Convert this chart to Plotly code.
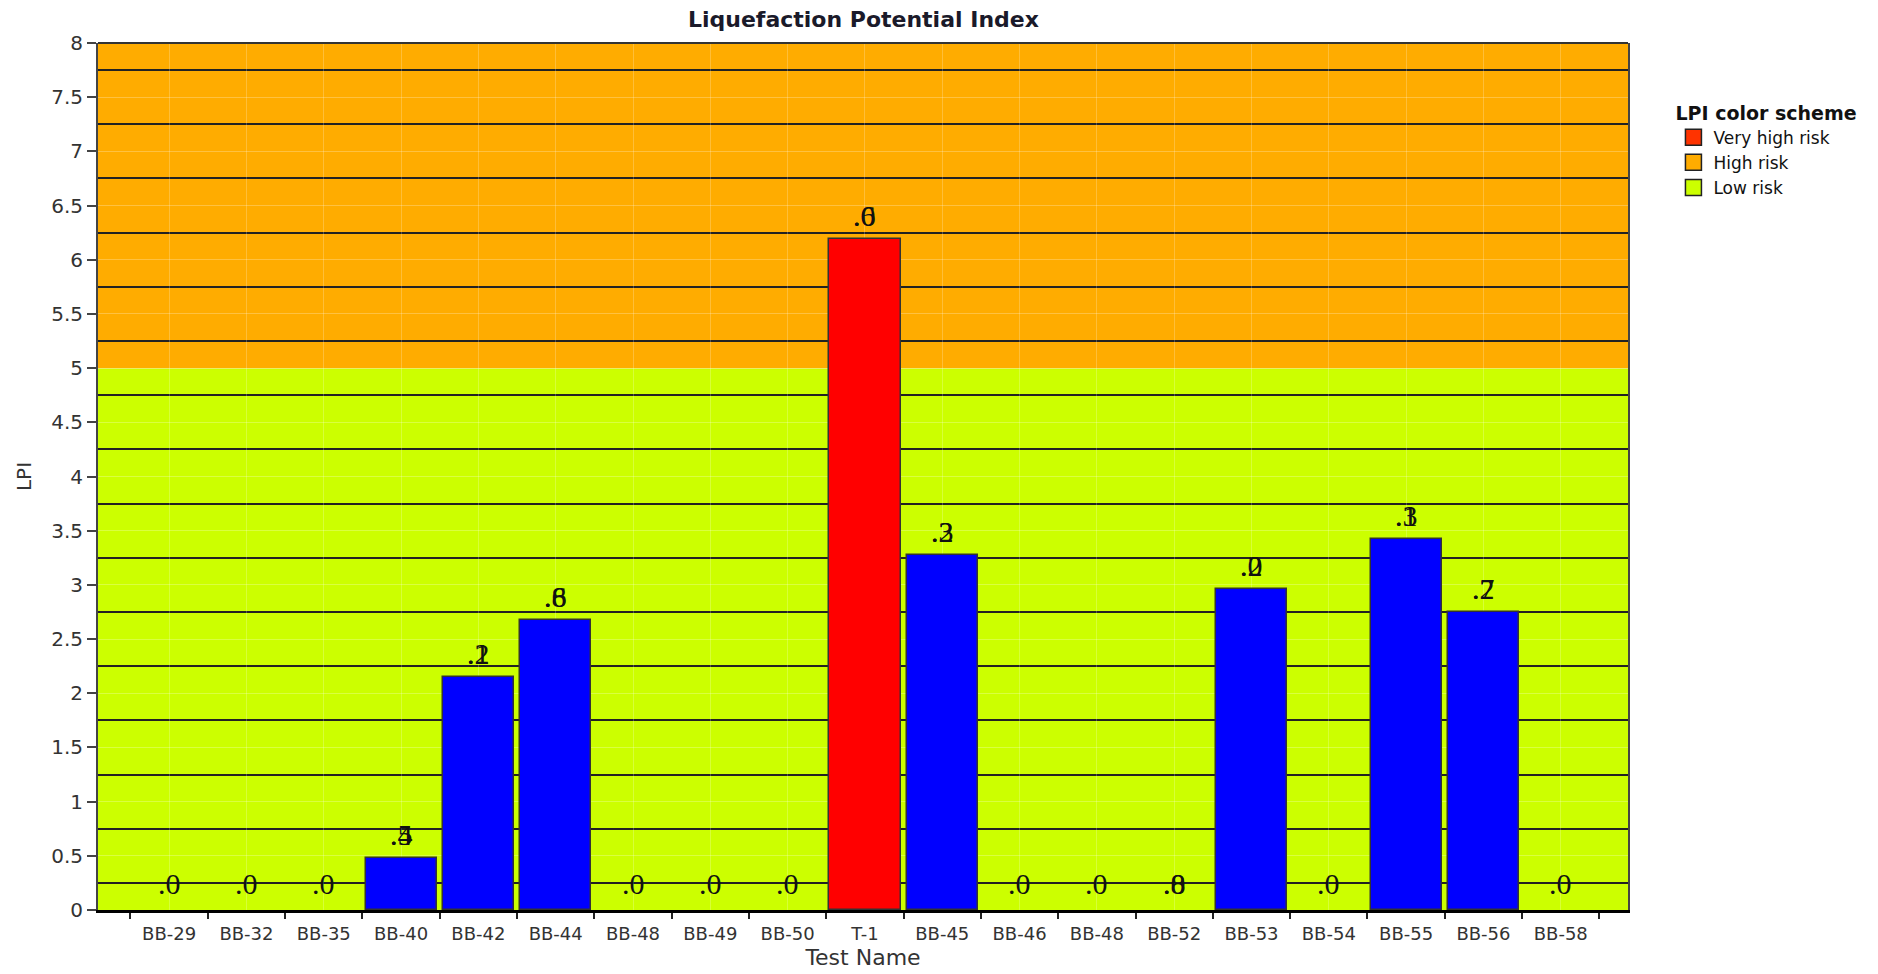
import plotly.graph_objects as go

# Test names (BB-48 appears twice, so positions are used on the x axis)
test_names = ["BB-29", "BB-32", "BB-35", "BB-40", "BB-42", "BB-44", "BB-48",
              "BB-49", "BB-50", "T-1", "BB-45", "BB-46", "BB-48", "BB-52",
              "BB-53", "BB-54", "BB-55", "BB-56", "BB-58"]
lpi_values = [0, 0, 0, 0.48, 2.15, 2.68, 0, 0, 0, 6.19, 3.28, 0, 0, 0,
              2.96, 0, 3.42, 2.75, 0]

# The value labels in the original are two glyphs printed over each other
label_front = [".0", ".0", ".0", ".5", ".2", ".6", ".0", ".0", ".0", ".6",
               ".3", ".0", ".0", ".0", ".0", ".0", ".3", ".7", ".0"]
label_back = ["", "", "", ".4", ".1", ".8", "", "", "", ".0", ".2", "", "",
              ".8", ".2", "", ".1", ".2", ""]

# Risk bands on the LPI scale
band_names = ["Low risk", "High risk"]
band_edges = [0, 5, 8]
legend_names = ["Very high risk", "High risk", "Low risk"]

ORANGE = "#FFAC00"
GREEN = "#CCFF00"
legend_colors = ["#FF3300", ORANGE, GREEN]
band_colors = [GREEN, ORANGE]

x_pos = list(range(len(test_names)))
bar_colors = ["#FF0000" if v >= 5 else "#0000FF" for v in lpi_values]
outline_w = [1.5 if v > 0 else 0 for v in lpi_values]

fig = go.Figure()
fig.add_trace(go.Bar(
    x=x_pos, y=lpi_values, width=0.92,
    marker=dict(color=bar_colors, line=dict(color="#333333", width=outline_w)),
    showlegend=False, hoverinfo="x+y",
))

# Legend entries
for name, col in zip(legend_names, legend_colors):
    fig.add_trace(go.Scatter(
        x=[None], y=[None], mode="markers", name=name,
        marker=dict(symbol="square", size=16, color=col,
                    line=dict(color="#222222", width=1.5)),
    ))

# Background bands
for i, name in enumerate(band_names):
    fig.add_shape(type="rect", xref="paper", yref="y", x0=0, x1=1,
                  y0=band_edges[i], y1=band_edges[i + 1],
                  fillcolor=band_colors[i], line_width=0, layer="below")

# Top border of the plot frame
fig.add_shape(type="line", xref="paper", yref="paper", x0=0, x1=1, y0=1, y1=1,
              line=dict(color="#333333", width=2))

# Value labels
for xi, v, a, b in zip(x_pos, lpi_values, label_front, label_back):
    for t in (b, a):
        if t:
            fig.add_annotation(x=xi, y=v, text=t, showarrow=False,
                               yanchor="bottom", yshift=8 if v == 0 else 5,
                               font=dict(family="Liberation Serif", size=30,
                                         color="#111111"))

fig.update_layout(
    width=1878, height=974,
    margin=dict(l=90, r=258, t=35, b=72),
    paper_bgcolor="white", plot_bgcolor="white",
    font=dict(family="DejaVu Sans", size=16, color="#333333"),
    title=dict(text="<b>Liquefaction Potential Index</b>", x=0.4555, xanchor="center",
               y=0.9887, yanchor="middle",
               font=dict(family="DejaVu Sans", size=22, color="#1a1a2a")),
    showlegend=True,
    legend=dict(x=1.0297, y=0.94, xanchor="left", yanchor="top",
                title=dict(text="<b>LPI color scheme</b>",
                           font=dict(size=19, color="#111111")),
                font=dict(size=17, color="#111111"),
                itemsizing="trace", tracegroupgap=0),
    bargap=0,
)

fig.update_xaxes(
    range=[-0.92, 18.87], tickmode="array", tickvals=x_pos, ticktext=test_names,
    ticks="", showgrid=True, gridcolor="rgba(255,255,255,0.22)", gridwidth=1,
    showline=True, linecolor="#000000", linewidth=3,
    tickfont=dict(size=18, color="#333333"), ticklabelstandoff=5,
    minor=dict(tickmode="linear", tick0=-0.5, dtick=1, ticks="outside",
               ticklen=6, tickwidth=2, tickcolor="#222222", showgrid=False),
    title=dict(text="Test Name", font=dict(size=22, color="#333333"), standoff=8),
    zeroline=False,
)

fig.update_yaxes(
    range=[0, 8], dtick=0.5, tick0=0,
    ticks="outside", ticklen=9, tickwidth=2, tickcolor="#444444",
    showgrid=True, gridcolor="rgba(255,255,255,0.25)", gridwidth=1,
    minor=dict(tickmode="linear", tick0=0.25, dtick=0.5, showgrid=True,
               gridcolor="#222222", gridwidth=2, ticks=""),
    showline=True, linecolor="#444444", linewidth=2, mirror=True,
    tickfont=dict(size=20, color="#333333"),
    title=dict(text="LPI", font=dict(size=20, color="#333333"), standoff=14),
    zeroline=False,
)

fig.write_html("out.html")
